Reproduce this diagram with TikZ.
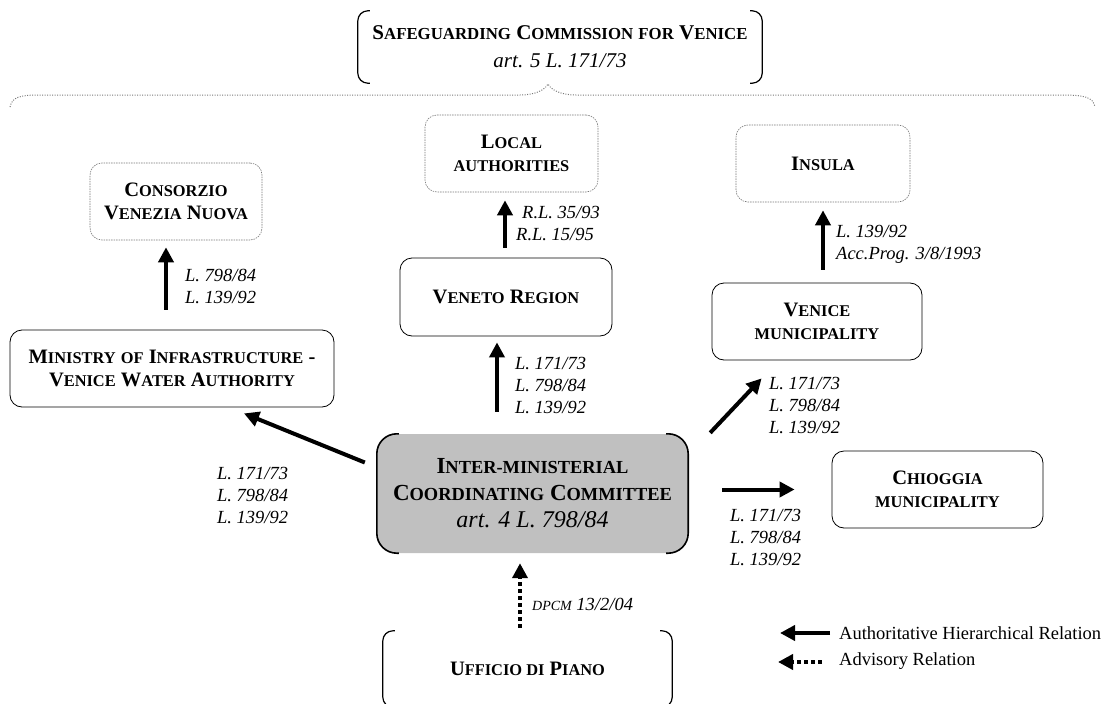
\documentclass[tikz,border=0pt]{standalone}
\usepackage{fontspec}
\setmainfont{Liberation Serif}
\usetikzlibrary{arrows.meta}
\makeatletter
\newcommand\smc[1]{{\fontsize{\fpeval{0.8*\f@size}}{\f@baselineskip}\selectfont #1}}
\makeatother
\definecolor{ccgray}{RGB}{192,192,192}
\definecolor{dgray}{RGB}{120,120,120}
\tikzset{
 box/.style={draw, line width=0.8pt, rounded corners=12pt, align=center, font=\fontsize{20.5}{23}\selectfont\bfseries, inner sep=0pt},
 dbox/.style={box, draw=dgray, line width=0.6pt, dash pattern=on 1.5pt off 1pt},
 lbl/.style={anchor=west, align=left, inner sep=0pt, font=\fontsize{18.5}{22}\selectfont\itshape},
 arr/.style={line width=4pt, -{Triangle[length=15pt,width=15pt]}},
 darr/.style={arr, dash pattern=on 4pt off 3pt},
 brk/.style={line width=1.2pt, rounded corners=10pt},
 cbrk/.style={line width=1.6pt, rounded corners=20pt},
 brace/.style={draw=dgray, line width=1pt, dash pattern=on 1pt off 1.5pt},
}
\begin{document}
\begin{tikzpicture}[x=1pt,y=-1pt]
\useasboundingbox (0,0) rectangle (1106,704);
% top bracket box
\node[align=center, inner sep=0pt, minimum width=404pt, minimum height=72pt, font=\fontsize{21}{28}\selectfont] (top) at (560,47)
 {\textbf{S\smc{AFEGUARDING} C\smc{OMMISSION} \smc{FOR} V\smc{ENICE}}\\ \textit{art. 5 L. 171/73}};
\draw[brk] ([xshift=12pt]top.north west) -- (top.north west) -- (top.south west) -- ([xshift=12pt]top.south west);
\draw[brk] ([xshift=-12pt]top.north east) -- (top.north east) -- (top.south east) -- ([xshift=-12pt]top.south east);
% brace
\path[brace] (10,107) .. controls (12,97) and (20,95) .. (40,95) -- (520,95) .. controls (535,95) and (545,90) .. (548,84) .. controls (551,90) and (561,95) .. (576,95) -- (1060,95) .. controls (1085,95) and (1093,97) .. (1095,107);
% dashed boxes
\node[dbox, minimum width=172pt, minimum height=77pt] (consorzio) at (176,201.5) {C\smc{ONSORZIO}\\ V\smc{ENEZIA} N\smc{UOVA}};
\node[dbox, minimum width=173pt, minimum height=77pt] (local) at (511.5,153.5) {L\smc{OCAL}\\ \smc{AUTHORITIES}};
\node[dbox, minimum width=174pt, minimum height=77pt] (insula) at (823,163.5) {I\smc{NSULA}};
% solid boxes
\node[box, minimum width=212pt, minimum height=78pt] (veneto) at (506,297) {V\smc{ENETO} R\smc{EGION}};
\node[box, minimum width=210pt, minimum height=77pt] (venice) at (817,321.5) {V\smc{ENICE}\\ \smc{MUNICIPALITY}};
\node[box, minimum width=324pt, minimum height=77pt] (ministry) at (172,368.5) {M\smc{INISTRY} \smc{OF} I\smc{NFRASTRUCTURE} -\\ V\smc{ENICE} W\smc{ATER} A\smc{UTHORITY}};
\node[box, minimum width=211pt, minimum height=77pt] (chioggia) at (937.5,489.5) {C\smc{HIOGGIA}\\ \smc{MUNICIPALITY}};
% central box
\node[fill=ccgray, rounded corners=20pt, minimum width=311pt, minimum height=119pt, align=center, inner sep=0pt, font=\fontsize{23}{27}\selectfont] (cc) at (532.5,493.5)
 {\textbf{I\smc{NTER-MINISTERIAL}}\\ \textbf{C\smc{OORDINATING} C\smc{OMMITTEE}}\\ {\itshape\fontsize{24}{27}\selectfont art. 4 L. 798/84}};
\draw[cbrk] ([xshift=22pt]cc.north west) -- (cc.north west) -- (cc.south west) -- ([xshift=22pt]cc.south west);
\draw[cbrk] ([xshift=-22pt]cc.north east) -- (cc.north east) -- (cc.south east) -- ([xshift=-22pt]cc.south east);
% ufficio bracket box
\node[align=center, inner sep=0pt, minimum width=289pt, minimum height=76pt, font=\fontsize{20.5}{23}\selectfont\bfseries] (uff) at (527.5,669) {U\smc{FFICIO DI} P\smc{IANO}};
\draw[brk] ([xshift=12pt]uff.north west) -- (uff.north west) -- (uff.south west) -- ([xshift=12pt]uff.south west);
\draw[brk] ([xshift=-12pt]uff.north east) -- (uff.north east) -- (uff.south east) -- ([xshift=-12pt]uff.south east);
% arrows
\draw[arr, shorten <=20pt, shorten >=7pt] ([xshift=-6pt]ministry.north) -- ([xshift=-10pt]consorzio.south);
\draw[arr, shorten <=10pt, shorten >=8pt] ([xshift=-1pt]veneto.north) -- ([xshift=-6.5pt]local.south);
\draw[arr, shorten <=13pt, shorten >=8pt] ([xshift=6pt]venice.north) -- (insula.south);
\draw[arr, shorten <=22pt, shorten >=6pt] ([xshift=-35.5pt]cc.north) -- ([xshift=-9pt]veneto.south);
\draw[arr] ([xshift=22pt,yshift=1pt]cc.north east) -- ([xshift=50pt,yshift=-18pt]venice.south west);
\draw[arr] ([xshift=34pt,yshift=4pt]cc.east) -- ([xshift=-37pt]chioggia.west);
\draw[arr] ([xshift=-12pt,yshift=31pt]cc.west) -- ([xshift=72pt,yshift=-6pt]ministry.south);
\draw[darr, shorten <=3pt, shorten >=10pt] ([xshift=-7.5pt]uff.north) -- ([xshift=-12.5pt]cc.south);
% labels
\node[lbl] (lb1) at (185,286) {L. 798/84\\L. 139/92};
\node[lbl] (lb2) at (516,224) {\hspace{6pt}R.L. 35/93\\R.L. 15/95};
\node[lbl] (lb3) at (515,386) {L. 171/73\\L. 798/84\\L. 139/92};
\node[lbl] (lb4) at (836,244) {L. 139/92\\Acc.Prog. 3/8/1993};
\node[lbl] (lb5) at (769,406) {L. 171/73\\L. 798/84\\L. 139/92};
\node[lbl] (lb6) at (217,496) {L. 171/73\\L. 798/84\\L. 139/92};
\node[lbl] (lb7) at (730,538) {L. 171/73\\L. 798/84\\L. 139/92};
\node[lbl] (lb8) at (532,604) {{\fontsize{14}{16}\selectfont DPCM} 13/2/04};
% legend
\node[anchor=west, inner sep=0pt, font=\fontsize{18.5}{22}\selectfont] (lg1) at (839,633) {Authoritative Hierarchical Relation};
\node[anchor=west, inner sep=0pt, font=\fontsize{18.5}{22}\selectfont] (lg2) at (839,661) {Advisory Relation};
\coordinate (l1a) at (830,633);
\coordinate (l1b) at (780,633);
\coordinate (l2a) at (822,662);
\coordinate (l2b) at (778,662);
\draw[arr] (l1a) -- (l1b);
\draw[darr] (l2a) -- (l2b);
\end{tikzpicture}
\end{document}
